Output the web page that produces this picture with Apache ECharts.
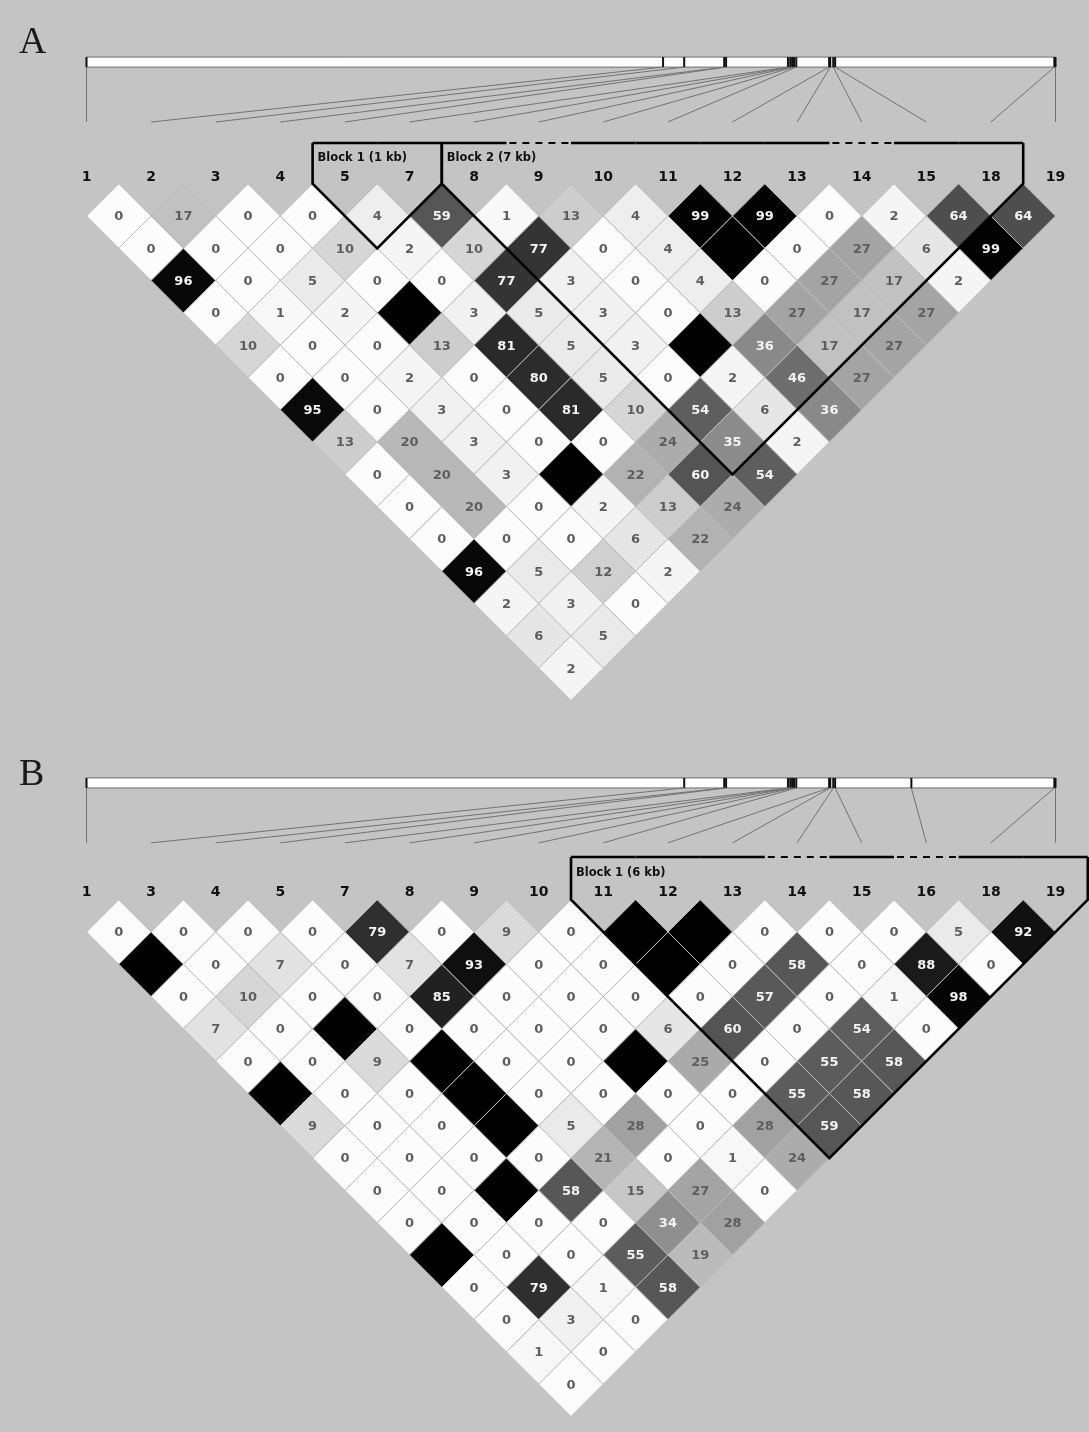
<!DOCTYPE html>
<html>
<head>
<meta charset="utf-8">
<script src="https://cdn.jsdelivr.net/npm/echarts@6/dist/echarts.min.js"></script>
<style>
  html, body { margin: 0; padding: 0; background: #c4c4c4; }
  #ld { width: 1089px; height: 1432px; }
</style>
</head>
<body>
<div id="ld"></div>
<script>
// marker names as shown above each triangle
const markersA = ['1', '2', '3', '4', '5', '7', '8', '9', '10', '11', '12', '13', '14', '15', '18', '19'];
const markersB = ['1', '3', '4', '5', '7', '8', '9', '10', '11', '12', '13', '14', '15', '16', '18', '19'];

// physical positions (kb from marker 1)
const posA = [0, 15.28, 15.84, 16.90, 16.95, 18.59, 18.65, 18.70, 18.75, 18.81, 19.68, 19.71, 19.79, 19.84, 25.65, 25.68];
const posB = [0, 15.84, 16.90, 16.95, 18.59, 18.65, 18.70, 18.75, 18.81, 19.68, 19.71, 19.79, 19.84, 21.86, 25.65, 25.68];

// r2 x 100, row k holds the pairs (i, i+k+1); 100 = black cell with no number
const ldA = [
    [0, 17, 0, 0, 4, 59, 1, 13, 4, 99, 99, 0, 2, 64, 64],
    [0, 0, 0, 10, 2, 10, 77, 0, 4, 100, 0, 27, 6, 99],
    [96, 0, 5, 0, 0, 77, 3, 0, 4, 0, 27, 17, 2],
    [0, 1, 2, 100, 3, 5, 3, 0, 13, 27, 17, 27],
    [10, 0, 0, 13, 81, 5, 3, 100, 36, 17, 27],
    [0, 0, 2, 0, 80, 5, 0, 2, 46, 27],
    [95, 0, 3, 0, 81, 10, 54, 6, 36],
    [13, 20, 3, 0, 0, 24, 35, 2],
    [0, 20, 3, 100, 22, 60, 54],
    [0, 20, 0, 2, 13, 24],
    [0, 0, 0, 6, 22],
    [96, 5, 12, 2],
    [2, 3, 0],
    [6, 5],
    [2]
];
const ldB = [
    [0, 0, 0, 0, 79, 0, 9, 0, 100, 100, 0, 0, 0, 5, 92],
    [100, 0, 7, 0, 7, 93, 0, 0, 100, 0, 58, 0, 88, 0],
    [0, 10, 0, 0, 85, 0, 0, 0, 0, 57, 0, 1, 98],
    [7, 0, 100, 0, 0, 0, 0, 6, 60, 0, 54, 0],
    [0, 0, 9, 100, 0, 0, 100, 25, 0, 55, 58],
    [100, 0, 0, 100, 0, 0, 0, 0, 55, 58],
    [9, 0, 0, 100, 5, 28, 0, 28, 59],
    [0, 0, 0, 0, 21, 0, 1, 24],
    [0, 0, 100, 58, 15, 27, 0],
    [0, 0, 0, 0, 34, 28],
    [100, 0, 0, 55, 19],
    [0, 79, 1, 58],
    [0, 3, 0],
    [1, 0],
    [0]
];

// haplotype blocks: first / last marker index, markers drawn dashed on the top line
const blocksA = [
    { label: 'Block 1 (1 kb)', start: 4, end: 5, dashed: [] },
    { label: 'Block 2 (7 kb)', start: 6, end: 14, dashed: [7, 12] }
];
const blocksB = [
    { label: 'Block 1 (6 kb)', start: 8, end: 15, dashed: [11, 13] }
];

// grey shade per r2 value (print looks non linear)
const shadeStops = [[0, 252], [5, 234], [10, 214], [20, 184], [30, 155], [40, 125], [50, 100], [60, 84], [70, 70], [80, 44], [90, 22], [95, 10], [100, 0]];
function shade(v) {
    for (let k = 1; k < shadeStops.length; k++) {
        const a = shadeStops[k - 1], b = shadeStops[k];
        if (v <= b[0]) {
            const g = Math.round(a[1] + (b[1] - a[1]) * (v - a[0]) / (b[0] - a[0]));
            return 'rgb(' + g + ',' + g + ',' + g + ')';
        }
    }
    return '#000';
}

const numFont = 'bold 13px "DejaVu Sans", sans-serif';

function panelSeries(g, markers, pos, rows, blocks, lay) {
    const axes = { xAxisIndex: g, yAxisIndex: g };
    const n = markers.length;
    const total = pos[pos.length - 1];

    // cells
    const cells = [];
    rows.forEach((row, r) => row.forEach((v, i) => cells.push([i + (r + 1) / 2, r, v])));

    const cellSeries = Object.assign({
        type: 'custom',
        data: cells,
        encode: { x: 0, y: 1 },
        z: 2,
        renderItem: (params, api) => {
            const cx = api.value(0), r = api.value(1), v = api.value(2);
            const pts = [
                api.coord([cx, r - 1]), api.coord([cx + 0.5, r]),
                api.coord([cx, r + 1]), api.coord([cx - 0.5, r])
            ];
            const c = api.coord([cx, r]);
            const kids = [{
                type: 'polygon',
                shape: { points: pts },
                style: { fill: shade(v), stroke: '#bcbcbc', lineWidth: 1 }
            }];
            if (v < 100) {
                kids.push({
                    type: 'text',
                    x: c[0], y: c[1] + 1,
                    style: {
                        text: String(v), font: numFont,
                        fill: v >= 30 ? '#f4f4f4' : '#5e5e5e',
                        align: 'center', verticalAlign: 'middle'
                    }
                });
            }
            return { type: 'group', children: kids };
        }
    }, axes);

    // marker names
    const labelSeries = Object.assign({
        type: 'custom',
        data: markers.map((m, k) => [k, lay.labelR]),
        encode: { x: 0, y: 1 },
        z: 3,
        renderItem: (params, api) => {
            const p = api.coord([api.value(0), api.value(1)]);
            return {
                type: 'text', x: p[0], y: p[1],
                style: {
                    text: markers[params.dataIndex],
                    font: 'bold 14px "DejaVu Sans", sans-serif',
                    fill: '#111', align: 'center', verticalAlign: 'middle'
                }
            };
        }
    }, axes);

    // gene bar
    const barSeries = Object.assign({
        type: 'custom',
        data: [[0, n - 1]],
        z: 1,
        renderItem: (params, api) => {
            const a = api.coord([api.value(0), lay.barTop]);
            const b = api.coord([api.value(1), lay.barBot]);
            return {
                type: 'rect',
                shape: { x: a[0], y: a[1], width: b[0] - a[0], height: b[1] - a[1] },
                style: { fill: '#fdfdfd', stroke: '#6e6e6e', lineWidth: 1 }
            };
        }
    }, axes);

    // ticks on the bar and lines down to each marker
    const mapSeries = Object.assign({
        type: 'custom',
        data: pos.map((p, k) => [p / total * (n - 1), k]),
        z: 2,
        renderItem: (params, api) => {
            const x = api.value(0), k = api.value(1);
            const t0 = api.coord([x, lay.barTop]);
            const t1 = api.coord([x, lay.barBot]);
            const e = api.coord([k, lay.lineEnd]);
            return {
                type: 'group',
                children: [
                    { type: 'line', shape: { x1: t0[0], y1: t0[1], x2: t1[0], y2: t1[1] },
                      style: { stroke: '#111', lineWidth: 2 } },
                    { type: 'line', shape: { x1: t1[0], y1: t1[1], x2: e[0], y2: e[1] },
                      style: { stroke: '#727272', lineWidth: 1 } }
                ]
            };
        }
    }, axes);

    // block outlines
    const blockSeries = Object.assign({
        type: 'custom',
        data: blocks.map(b => [b.start, b.end]),
        z: 4,
        renderItem: (params, api) => {
            const blk = blocks[params.dataIndex];
            const s = api.value(0), e = api.value(1);
            const outline = [
                api.coord([s - 0.5, lay.blockTop]), api.coord([s - 0.5, -1]),
                api.coord([(s + e) / 2, e - s]),
                api.coord([e + 0.5, -1]), api.coord([e + 0.5, lay.blockTop])
            ];
            const kids = [{
                type: 'polyline', shape: { points: outline },
                style: { stroke: '#000', fill: null, lineWidth: 2.6, lineJoin: 'miter' }
            }];
            for (let m = s; m <= e; m++) {
                const p0 = api.coord([m - 0.5, lay.blockTop]);
                const p1 = api.coord([m + 0.5, lay.blockTop]);
                const dashed = blk.dashed.indexOf(m) >= 0;
                kids.push({
                    type: 'line',
                    shape: { x1: p0[0] + (dashed ? 3 : 0), y1: p0[1], x2: p1[0], y2: p1[1] },
                    style: { stroke: '#000', lineWidth: dashed ? 2 : 2.6, lineDash: dashed ? [7, 6] : null }
                });
            }
            const lp = api.coord([s - 0.5, lay.blockLabelR]);
            kids.push({
                type: 'text', x: lp[0] + 5, y: lp[1],
                style: {
                    text: blk.label, font: 'bold 11.5px "DejaVu Sans", sans-serif',
                    fill: '#111', align: 'left', verticalAlign: 'middle'
                }
            });
            return { type: 'group', children: kids };
        }
    }, axes);

    return [barSeries, mapSeries, cellSeries, blockSeries, labelSeries];
}

const layA = { labelR: -1.21, barTop: -4.92, barBot: -4.61, lineEnd: -2.91, blockTop: -2.26, blockLabelR: -1.78 };
const layB = { labelR: -1.24, barTop: -4.77, barBot: -4.46, lineEnd: -2.76, blockTop: -2.32, blockLabelR: -1.82 };

const axisX = g => ({ gridIndex: g, type: 'value', min: -0.5, max: 15.5, show: false });
const axisY = g => ({ gridIndex: g, type: 'value', min: -6, max: 15, inverse: true, show: false });

let ld_option = {
    backgroundColor: '#c4c4c4',
    animation: false,
    grid: [
        { left: 54.2, width: 1033.6, top: 22.2, height: 678.3 },
        { left: 54.2, width: 1033.6, top: 738.2, height: 678.3 }
    ],
    xAxis: [axisX(0), axisX(1)],
    yAxis: [axisY(0), axisY(1)],
    graphic: [
        { type: 'text', left: 19, top: 24, style: { text: 'A', font: '38px "Liberation Serif", serif', fill: '#1a1a1a' } },
        { type: 'text', left: 19, top: 756, style: { text: 'B', font: '38px "Liberation Serif", serif', fill: '#1a1a1a' } }
    ],
    series: [].concat(
        panelSeries(0, markersA, posA, ldA, blocksA, layA),
        panelSeries(1, markersB, posB, ldB, blocksB, layB)
    )
};

let ld_chart = echarts.init(document.getElementById('ld'));
ld_chart.setOption(ld_option);
</script>
</body>
</html>
